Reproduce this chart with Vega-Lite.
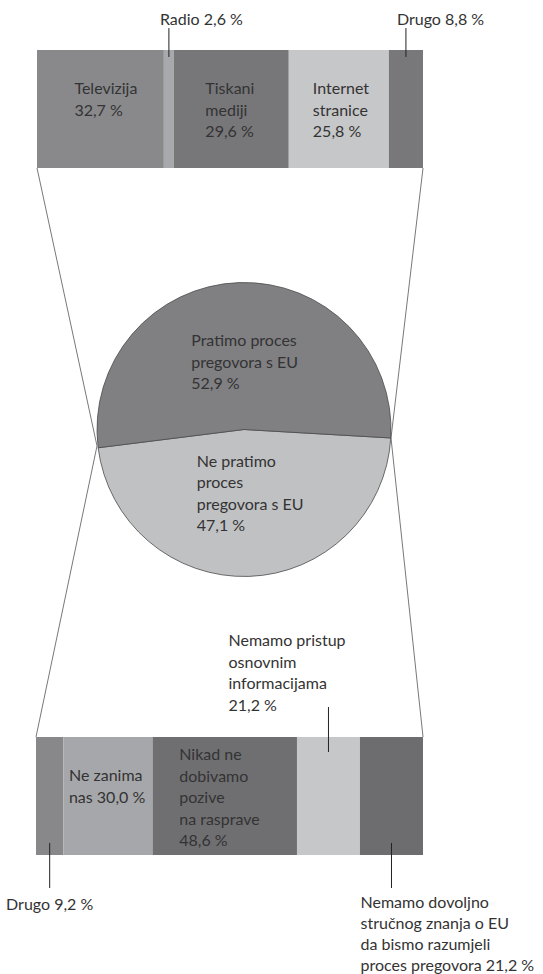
{
  "$schema": "https://vega.github.io/schema/vega-lite/v6.json",
  "width": 543,
  "height": 974,
  "autosize": {"type": "fit", "contains": "padding"},
  "padding": 0,
  "background": "white",
  "config": {"view": {"stroke": null}},
  "datasets": {
    "mediji": [
      {"kategorija": "Televizija", "udio": 32.7, "red": 1, "oznaka": "Televizija\n32,7 %"},
      {"kategorija": "Radio", "udio": 2.6, "red": 2, "oznaka": "Radio 2,6 %"},
      {"kategorija": "Tiskani mediji", "udio": 29.6, "red": 3, "oznaka": "Tiskani\nmediji\n29,6 %"},
      {"kategorija": "Internet stranice", "udio": 25.8, "red": 4, "oznaka": "Internet\nstranice\n25,8 %"},
      {"kategorija": "Drugo", "udio": 8.8, "red": 5, "oznaka": "Drugo 8,8 %"}
    ],
    "pracenje": [
      {"odgovor": "Ne pratimo proces pregovora s EU", "udio": 47.1, "red": 1, "oznaka": "Ne pratimo\nproces\npregovora s EU\n47,1 %"},
      {"odgovor": "Pratimo proces pregovora s EU", "udio": 52.9, "red": 2, "oznaka": "Pratimo proces\npregovora s EU\n52,9 %"}
    ],
    "razlozi": [
      {"kategorija": "Drugo", "udio": 9.2, "red": 1, "oznaka": "Drugo 9,2 %"},
      {"kategorija": "Ne zanima nas", "udio": 30.0, "red": 2, "oznaka": "Ne zanima\nnas 30,0 %"},
      {"kategorija": "Nikad ne dobivamo pozive na rasprave", "udio": 48.6, "red": 3, "oznaka": "Nikad ne\ndobivamo\npozive\nna rasprave\n48,6 %"},
      {"kategorija": "Nemamo pristup osnovnim informacijama", "udio": 21.2, "red": 4, "oznaka": "Nemamo pristup\nosnovnim\ninformacijama\n21,2 %"},
      {"kategorija": "Nemamo dovoljno stručnog znanja o EU da bismo razumjeli proces pregovora", "udio": 21.2, "red": 5, "oznaka": "Nemamo dovoljno\nstručnog znanja o EU\nda bismo razumjeli\nproces pregovora 21,2 %"}
    ]
  },
  "layer": [
    {
      "data": {"values": [{}]},
      "layer": [
        {
          "mark": {"type": "rule", "color": "#555555", "strokeWidth": 0.8},
          "encoding": {
            "x": {"datum": -1.408, "type": "quantitative", "scale": {"domain": [-1, 1], "range": [97, 391], "nice": false, "zero": false}, "axis": null},
            "y": {"datum": 1.779, "type": "quantitative", "scale": {"domain": [-1, 1], "range": [576.5, 282.5], "nice": false, "zero": false}, "axis": null},
            "x2": {"datum": -1.0},
            "y2": {"datum": -0.112}
          }
        },
        {
          "mark": {"type": "rule", "color": "#555555", "strokeWidth": 0.8},
          "encoding": {
            "x": {"datum": 1.218, "type": "quantitative"},
            "y": {"datum": 1.779, "type": "quantitative"},
            "x2": {"datum": 1.0},
            "y2": {"datum": -0.058}
          }
        },
        {
          "mark": {"type": "rule", "color": "#555555", "strokeWidth": 0.8},
          "encoding": {
            "x": {"datum": -1.0, "type": "quantitative"},
            "y": {"datum": -0.112, "type": "quantitative"},
            "x2": {"datum": -1.415},
            "y2": {"datum": -2.092}
          }
        },
        {
          "mark": {"type": "rule", "color": "#555555", "strokeWidth": 0.8},
          "encoding": {
            "x": {"datum": 1.0, "type": "quantitative"},
            "y": {"datum": -0.058, "type": "quantitative"},
            "x2": {"datum": 1.218},
            "y2": {"datum": -2.092}
          }
        }
      ]
    },
    {
      "data": {"name": "mediji"},
      "transform": [
        {"stack": "udio", "groupby": [], "sort": [{"field": "red", "order": "ascending"}], "as": ["pocetak", "kraj"]},
        {"calculate": "(datum.pocetak + datum.kraj) / 2", "as": "sredina"}
      ],
      "layer": [
        {
          "mark": {"type": "rect"},
          "encoding": {
            "x": {"field": "pocetak", "type": "quantitative", "scale": {"domain": [0, 99.5], "range": [37, 423], "nice": false, "zero": false}, "axis": null},
            "x2": {"field": "kraj"},
            "y": {"datum": 0, "type": "quantitative", "scale": {"domain": [0, 1], "range": [168, 50], "nice": false, "zero": false}, "axis": null},
            "y2": {"datum": 1},
            "color": {"field": "kategorija", "type": "nominal", "scale": {"domain": ["Televizija", "Radio", "Tiskani mediji", "Internet stranice", "Drugo"], "range": ["#89898c", "#a8a9ac", "#77777a", "#c6c7c9", "#78787b"]}, "legend": null}
          }
        },
        {
          "transform": [{"filter": "datum.udio >= 10"}],
          "mark": {"type": "text", "font": "Lato", "fontSize": 16, "fill": "#333333", "align": "left", "baseline": "alphabetic", "lineBreak": "\n", "lineHeight": 21.5, "dx": -26},
          "encoding": {
            "x": {"field": "sredina", "type": "quantitative"},
            "y": {"datum": 0.627, "type": "quantitative"},
            "text": {"field": "oznaka"}
          }
        },
        {
          "transform": [{"filter": "datum.udio < 10"}],
          "mark": {"type": "rule", "color": "#222222", "strokeWidth": 1},
          "encoding": {
            "x": {"field": "sredina", "type": "quantitative"},
            "y": {"datum": 0.941, "type": "quantitative"},
            "y2": {"datum": 1.186}
          }
        },
        {
          "transform": [{"filter": "datum.udio < 10"}],
          "mark": {"type": "text", "font": "Lato", "fontSize": 16, "fill": "#333333", "align": "left", "baseline": "alphabetic", "dx": -9},
          "encoding": {
            "x": {"field": "sredina", "type": "quantitative"},
            "y": {"datum": 1.212, "type": "quantitative"},
            "text": {"field": "oznaka"}
          }
        }
      ]
    },
    {
      "data": {"name": "pracenje"},
      "transform": [
        {"stack": "udio", "groupby": [], "sort": [{"field": "red", "order": "ascending"}], "as": ["pocetak", "kraj"]},
        {"calculate": "(datum.pocetak + datum.kraj) / 2", "as": "sredina"}
      ],
      "layer": [
        {
          "mark": {"type": "arc", "radius": 147, "stroke": "#4a4a4a", "strokeWidth": 0.8},
          "encoding": {
            "theta": {"field": "pocetak", "type": "quantitative", "stack": null, "scale": {"domain": [0, 100], "range": [1.6284, 7.9116], "zero": false, "nice": false}},
            "theta2": {"field": "kraj"},
            "x": {"datum": 0, "type": "quantitative", "scale": {"domain": [-1, 1], "range": [97, 391], "nice": false, "zero": false}, "axis": null},
            "y": {"datum": 0, "type": "quantitative", "scale": {"domain": [-1, 1], "range": [576.5, 282.5], "nice": false, "zero": false}, "axis": null},
            "color": {"field": "odgovor", "type": "nominal", "scale": {"domain": ["Ne pratimo proces pregovora s EU", "Pratimo proces pregovora s EU"], "range": ["#c0c1c3", "#808083"]}, "legend": null}
          }
        },
        {
          "transform": [{"filter": "datum.odgovor == 'Pratimo proces pregovora s EU'"}],
          "mark": {"type": "text", "font": "Lato", "fontSize": 16, "fill": "#333333", "align": "left", "baseline": "alphabetic", "lineBreak": "\n", "lineHeight": 21.5, "radius": 83.5, "dx": -50},
          "encoding": {
            "theta": {"field": "sredina", "type": "quantitative", "stack": null},
            "x": {"datum": 0, "type": "quantitative"},
            "y": {"datum": 0, "type": "quantitative"},
            "text": {"field": "oznaka"}
          }
        },
        {
          "transform": [{"filter": "datum.odgovor == 'Ne pratimo proces pregovora s EU'"}],
          "mark": {"type": "text", "font": "Lato", "fontSize": 16, "fill": "#333333", "align": "left", "baseline": "alphabetic", "lineBreak": "\n", "lineHeight": 21.5, "radius": 37.2, "dx": -48.5},
          "encoding": {
            "theta": {"field": "sredina", "type": "quantitative", "stack": null},
            "x": {"datum": 0, "type": "quantitative"},
            "y": {"datum": 0, "type": "quantitative"},
            "text": {"field": "oznaka"}
          }
        }
      ]
    },
    {
      "data": {"name": "razlozi"},
      "transform": [
        {"stack": "udio", "groupby": [], "sort": [{"field": "red", "order": "ascending"}], "as": ["pocetak", "kraj"]},
        {"calculate": "(datum.pocetak + datum.kraj) / 2", "as": "sredina"}
      ],
      "layer": [
        {
          "mark": {"type": "rect"},
          "encoding": {
            "x": {"field": "pocetak", "type": "quantitative", "scale": {"domain": [0, 130.2], "range": [36, 423], "nice": false, "zero": false}, "axis": null},
            "x2": {"field": "kraj"},
            "y": {"datum": 0, "type": "quantitative", "scale": {"domain": [0, 1], "range": [855, 737], "nice": false, "zero": false}, "axis": null},
            "y2": {"datum": 1},
            "color": {"field": "kategorija", "type": "nominal", "scale": {"domain": ["Drugo", "Ne zanima nas", "Nikad ne dobivamo pozive na rasprave", "Nemamo pristup osnovnim informacijama", "Nemamo dovoljno stručnog znanja o EU da bismo razumjeli proces pregovora"], "range": ["#88888b", "#a6a7aa", "#6f6f72", "#c6c7c9", "#6d6d70"]}, "legend": null}
          }
        },
        {
          "transform": [{"filter": "datum.kategorija == 'Ne zanima nas'"}],
          "mark": {"type": "text", "font": "Lato", "fontSize": 16, "fill": "#333333", "align": "left", "baseline": "alphabetic", "lineBreak": "\n", "lineHeight": 21.5, "dx": -39},
          "encoding": {
            "x": {"field": "sredina", "type": "quantitative"},
            "y": {"datum": 0.627, "type": "quantitative"},
            "text": {"field": "oznaka"}
          }
        },
        {
          "transform": [{"filter": "datum.kategorija == 'Nikad ne dobivamo pozive na rasprave'"}],
          "mark": {"type": "text", "font": "Lato", "fontSize": 16, "fill": "#333333", "align": "left", "baseline": "alphabetic", "lineBreak": "\n", "lineHeight": 21.5, "dx": -45.5},
          "encoding": {
            "x": {"field": "sredina", "type": "quantitative"},
            "y": {"datum": 0.805, "type": "quantitative"},
            "text": {"field": "oznaka"}
          }
        },
        {
          "transform": [{"filter": "datum.udio < 25 && datum.kategorija != 'Nemamo pristup osnovnim informacijama'"}],
          "mark": {"type": "rule", "color": "#222222", "strokeWidth": 1},
          "encoding": {
            "x": {"field": "sredina", "type": "quantitative"},
            "y": {"datum": 0.102, "type": "quantitative"},
            "y2": {"datum": -0.28}
          }
        },
        {
          "transform": [{"filter": "datum.kategorija == 'Nemamo pristup osnovnim informacijama'"}],
          "mark": {"type": "rule", "color": "#222222", "strokeWidth": 1},
          "encoding": {
            "x": {"field": "sredina", "type": "quantitative"},
            "y": {"datum": 0.873, "type": "quantitative"},
            "y2": {"datum": 1.254}
          }
        },
        {
          "transform": [{"filter": "datum.kategorija == 'Nemamo pristup osnovnim informacijama'"}],
          "mark": {"type": "text", "font": "Lato", "fontSize": 16, "fill": "#333333", "align": "left", "baseline": "alphabetic", "lineBreak": "\n", "lineHeight": 21.5, "dx": -100},
          "encoding": {
            "x": {"field": "sredina", "type": "quantitative"},
            "y": {"datum": 1.771, "type": "quantitative"},
            "text": {"field": "oznaka"}
          }
        },
        {
          "transform": [{"filter": "datum.kategorija == 'Drugo'"}],
          "mark": {"type": "text", "font": "Lato", "fontSize": 16, "fill": "#333333", "align": "center", "baseline": "alphabetic"},
          "encoding": {
            "x": {"field": "sredina", "type": "quantitative"},
            "y": {"datum": -0.47, "type": "quantitative"},
            "text": {"field": "oznaka"}
          }
        },
        {
          "transform": [{"filter": "indexof(datum.kategorija, 'Nemamo dovoljno') == 0"}],
          "mark": {"type": "text", "font": "Lato", "fontSize": 16, "fill": "#333333", "align": "left", "baseline": "alphabetic", "lineBreak": "\n", "lineHeight": 21, "dx": -31},
          "encoding": {
            "x": {"field": "sredina", "type": "quantitative"},
            "y": {"datum": -0.45, "type": "quantitative"},
            "text": {"field": "oznaka"}
          }
        }
      ]
    }
  ],
  "resolve": {"scale": {"x": "independent", "y": "independent", "theta": "independent", "color": "independent"}}
}
